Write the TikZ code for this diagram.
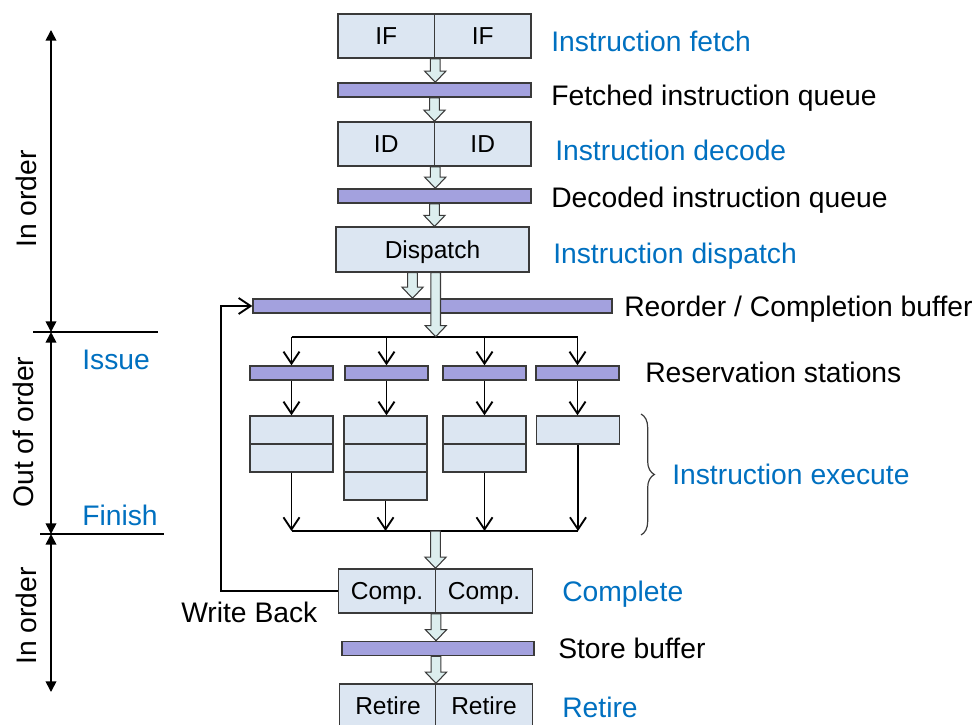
\documentclass[tikz,border=0pt]{standalone}
\usepackage{fontspec}
\setmainfont{Liberation Sans}
\usetikzlibrary{arrows.meta,calc,decorations.pathreplacing}
\definecolor{boxfill}{HTML}{DCE6F2}
\definecolor{barfill}{HTML}{A3A1DE}
\definecolor{arrfill}{HTML}{DCEEEE}
\definecolor{edge}{HTML}{3A3A3A}
\definecolor{lblue}{HTML}{0070C0}

% hollow block arrow pointing down: x and start from #1, tip at the y of #2
\newcommand{\hollowarrow}[2]{%
  \filldraw[harrow] let \p1=(#1), \p2=(#2) in
    (\x1-3.6pt,\y1) -- (\x1-3.6pt,\y2+8.3pt) -- (\x1-7.9pt,\y2+8.3pt) -- (\x1,\y2)
    -- (\x1+7.9pt,\y2+8.3pt) -- (\x1+3.6pt,\y2+8.3pt) -- (\x1+3.6pt,\y1) -- cycle;}

\begin{document}
\begin{tikzpicture}[x=0.75pt,y=-0.75pt,
  cell/.style={draw=edge, fill=boxfill, line width=1.1pt, inner sep=0pt,
    font=\fontsize{18.4}{20}\selectfont, text height=13.2pt, text depth=0pt},
  half/.style={cell, minimum width=72.4pt, minimum height=33pt},
  exc/.style={cell, minimum width=62.25pt, minimum height=21pt},
  bar/.style={draw=edge, fill=barfill, line width=1.1pt, inner sep=0pt, minimum height=10.5pt},
  rsbar/.style={bar, minimum width=62.25pt},
  harrow/.style={draw=edge, fill=arrfill, line width=0.8pt, line join=miter},
  conn/.style={draw=black, line width=1.25pt},
  arr/.style={conn, -{Straight Barb[length=9pt,width=12pt,line width=1.4pt]}},
  dbl/.style={draw=black, line width=1.25pt, {Triangle[length=8pt,width=8pt]}-{Triangle[length=8pt,width=8pt]}},
  lbl/.style={anchor=base west, font=\fontsize{21.2}{24}\selectfont, inner sep=0pt},
  blbl/.style={lbl, text=lblue},
  side/.style={rotate=90, font=\fontsize{21.2}{24}\selectfont, inner sep=0pt}]
\useasboundingbox (0,0) rectangle (977,724);
\clip (0,0) rectangle (977,724);

% ---- in-order front end ----
\node[half] (ifL) at (386.25,36) {IF};
\node[half] (ifR) at (482.75,36) {IF};
\node[bar, minimum width=144.75pt] (fq) at (434.5,90) {};
\node[half] (idL) at (386.25,144) {ID};
\node[half] (idR) at (482.75,144) {ID};
\node[bar, minimum width=144.75pt] (dq) at (434.5,196) {};
\node[cell, minimum width=144.75pt, minimum height=33.75pt] (disp) at (432.5,249.7) {Dispatch};
\node[bar, minimum width=269.25pt] (rob) at (432.5,306) {};

\hollowarrow{ifL.south east}{fq.north}
\hollowarrow{fq.south}{idL.north}
\hollowarrow{idL.south east}{dq.north}
\hollowarrow{dq.south}{disp.north}

% ---- reservation stations and execution units ----
\coordinate (dist) at (435.7,336.7);
\coordinate (coll) at (435.5,531);
\node[rsbar] (rs1) at (291.5,373) {};
\node[rsbar] (rs2) at (386.5,373) {};
\node[rsbar] (rs3) at (484.5,373) {};
\node[rsbar] (rs4) at (577.5,373) {};

\node[exc] (ex1a) at (291.5,430) {};
\node[exc] (ex1b) at (291.5,458) {};
\node[exc] (ex2a) at (385.5,430) {};
\node[exc] (ex2b) at (385.5,458) {};
\node[exc] (ex2c) at (385.5,486) {};
\node[exc] (ex3a) at (484.5,430) {};
\node[exc] (ex3b) at (484.5,458) {};
\node[exc] (ex4a) at (578,430) {};

\draw[conn] (dist -| rs1) -- (dist -| rs4);
\foreach \r in {rs1,rs2,rs3,rs4}
  \draw[arr] (dist -| \r) -- (\r.north);
\draw[arr] (rs1.south) -- (ex1a.north);
\draw[arr] (rs2.south) -- (rs2.south |- ex2a.north);
\draw[arr] (rs3.south) -- (ex3a.north);
\draw[arr] (rs4.south) -- (rs4.south |- ex4a.north);

\draw[conn] (coll -| ex1b) -- (coll -| ex4a);
\draw[arr] (ex1b.south) -- (coll -| ex1b);
\draw[arr] (ex2c.south) -- (coll -| ex2c);
\draw[arr] (ex3b.south) -- (coll -| ex3b);
\draw[arr] (ex4a.south) -- (coll -| ex4a);

% dispatch into the reorder buffer and into the stations
\coordinate (dsA) at (412.5,272.5);
\coordinate (dsB) at (435.7,272.5);
\hollowarrow{dsA}{rob.north}
\hollowarrow{dsB}{dist}

% ---- completion and retirement ----
\node[half] (cpL) at (387,591) {Comp.};
\node[half] (cpR) at (484,591) {Comp.};
\node[bar, minimum width=144pt] (sb) at (438,648.5) {};
\node[half] (rtL) at (388,706) {Retire};
\node[half] (rtR) at (484,706) {Retire};

\hollowarrow{coll}{cpL.north}
\hollowarrow{cpL.south east}{sb.north}
\hollowarrow{cpL.south east |- sb.south}{rtL.north}

% write-back path to the reorder buffer
\coordinate (wb) at (221,591);
\draw[arr] (cpL.west) -- (wb) |- (rob.west);
\node[lbl] (wbl) at (181,622) {Write Back};

% ---- stage labels ----
\node[blbl] (l1) at (551,51) {Instruction fetch};
\node[lbl]  (l2) at (551,105) {Fetched instruction queue};
\node[blbl] (l3) at (555,160) {Instruction decode};
\node[lbl]  (l4) at (551,207) {Decoded instruction queue};
\node[blbl] (l5) at (553,263) {Instruction dispatch};
\node[lbl]  (l6) at (624,316) {Reorder / Completion buffer};
\node[lbl]  (l7) at (645,382) {Reservation stations};
\node[blbl] (l8) at (672,484) {Instruction execute};
\node[blbl] (l9) at (562,601) {Complete};
\node[lbl]  (l10) at (558,658) {Store buffer};
\node[blbl] (l11) at (562,717) {Retire};

\coordinate (brT) at (641,414);
\coordinate (brB) at (641,535);
\draw[line width=0.9pt, edge, decorate, decoration={brace, amplitude=10pt}] (brT) -- (brB);

% ---- ordering scale on the left ----
\coordinate (sT) at (51,30);
\coordinate (s1) at (51,332);
\coordinate (s2) at (51,534);
\coordinate (sB) at (51,692);
\draw[dbl] (sT) -- (s1);
\draw[dbl] (s1) -- (s2);
\draw[dbl] (s2) -- (sB);
\draw[line width=0.8pt] (33,332) -- (158,332);
\draw[line width=0.8pt] (40,534) -- (164,534);
\node[side] (o1) at (26,199) {In order};
\node[side] (o2) at (23,432) {Out of order};
\node[side] (o3) at (26,616) {In order};
\node[blbl] (is) at (82,369) {Issue};
\node[blbl] (fi) at (82,525) {Finish};
\end{tikzpicture}
\end{document}
